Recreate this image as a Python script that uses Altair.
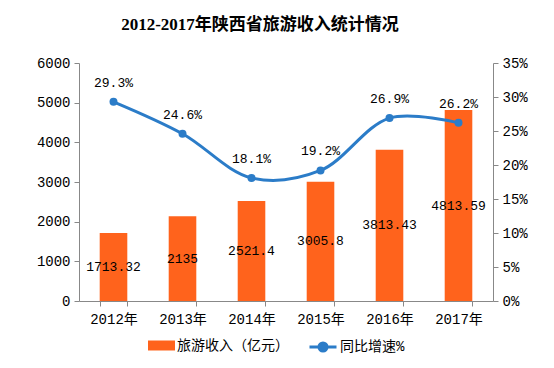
import altair as alt
import pandas as pd

years = ["2012年", "2013年", "2014年", "2015年", "2016年", "2017年"]
revenue = [1713.32, 2135, 2521.4, 3005.8, 3813.43, 4813.59]
revenue_labels = ["1713.32", "2135", "2521.4", "3005.8", "3813.43", "4813.59"]
growth = [29.3, 24.6, 18.1, 19.2, 26.9, 26.2]
growth_labels = ["29.3%", "24.6%", "18.1%", "19.2%", "26.9%", "26.2%"]
left_ticks = [0, 1000, 2000, 3000, 4000, 5000, 6000]
right_ticks = [0, 5, 10, 15, 20, 25, 30, 35]

bar_name = "旅游收入（亿元）"
line_name = "同比增速%"
ORANGE = "#FF631C"
BLUE = "#2B7CC8"
NUM_FONT = "Liberation Mono"
CJK_FONT = "Liberation Mono, Noto Sans CJK SC"

df = pd.DataFrame({
    "year": years,
    "revenue": revenue,
    "rlabel": revenue_labels,
    "growth": growth,
    "glabel": growth_labels,
    "bar_series": bar_name,
    "line_series": line_name,
})

x = alt.X("year:N", sort=years, title=None,
          scale=alt.Scale(paddingInner=0.6, paddingOuter=0.3),
          axis=alt.Axis(labelAngle=0, tickBand="extent", tickSize=5,
                        domainColor="#888888", tickColor="#888888",
                        labelFont=CJK_FONT, labelFontSize=14, labelColor="#000000",
                        labelPadding=6))

left_axis = alt.Axis(values=left_ticks, grid=False, format="d",
                     tickSize=5, domainColor="#888888", tickColor="#888888",
                     labelFont=NUM_FONT, labelFontSize=14, labelColor="#000000",
                     labelPadding=4, title=None)
right_axis = alt.Axis(orient="right", values=right_ticks,
                      labelExpr="datum.value + '%'", grid=False,
                      tickSize=5, domainColor="#888888", tickColor="#888888",
                      labelFont=NUM_FONT, labelFontSize=14, labelColor="#000000",
                      labelPadding=4, title=None)
left_scale = alt.Scale(domain=[0, 6000])
right_scale = alt.Scale(domain=[0, 35])

base = alt.Chart(df).encode(x=x)

bars = base.mark_bar(color=ORANGE).encode(
    y=alt.Y("revenue:Q", title=None, scale=left_scale, axis=left_axis),
    fill=alt.Fill("bar_series:N",
                  scale=alt.Scale(domain=[bar_name], range=[ORANGE]),
                  legend=alt.Legend(title=None, orient="none", legendX=69, legendY=269,
                                    symbolType="M-1,-0.37H1V0.37H-1Z", symbolSize=729,
                                    symbolStrokeWidth=0, padding=0,
                                    labelFont=CJK_FONT, labelFontSize=14,
                                    labelColor="#000000", labelOffset=2)),
)

bar_text = base.transform_calculate(mid="datum.revenue / 2").mark_text(
    font=NUM_FONT, fontSize=13, color="#000000", baseline="middle"
).encode(
    y=alt.Y("mid:Q", title=None, scale=left_scale, axis=left_axis),
    text="rlabel:N",
)

left = alt.layer(bars, bar_text)

line = base.mark_line(interpolate="catmull-rom", strokeWidth=3, color=BLUE).encode(
    y=alt.Y("growth:Q", title=None, scale=right_scale, axis=right_axis),
    stroke=alt.Stroke("line_series:N",
                      scale=alt.Scale(domain=[line_name], range=[BLUE]),
                      legend=alt.Legend(title=None, orient="none", legendX=229, legendY=269,
                                        symbolType="M-1,0H1M0.3,0A0.3,0.3,0,1,1,-0.3,0A0.3,0.3,0,1,1,0.3,0Z",
                                        symbolSize=729, symbolStrokeWidth=3,
                                        symbolFillColor=BLUE, padding=0,
                                        labelFont=CJK_FONT, labelFontSize=14,
                                        labelColor="#000000", labelOffset=2)),
)

points = base.mark_circle(size=64, color=BLUE, opacity=1).encode(
    y=alt.Y("growth:Q", title=None, scale=right_scale, axis=right_axis),
)

line_text = base.mark_text(font=NUM_FONT, fontSize=13, color="#000000",
                           baseline="middle", dy=-19).encode(
    y=alt.Y("growth:Q", title=None, scale=right_scale, axis=right_axis),
    text="glabel:N",
)

right = alt.layer(line, points, line_text)

chart = alt.layer(left, right).resolve_scale(y="independent").properties(
    width=414, height=238,
    autosize=alt.AutoSizeParams(type="none"),
    padding={"left": 71, "top": 55, "right": 50, "bottom": 66},
    title=alt.TitleParams("2012-2017年陕西省旅游收入统计情况",
                          font="Liberation Serif, Noto Sans CJK SC", fontSize=17,
                          fontWeight="bold", color="#000000", anchor="middle",
                          dx=-26, offset=22),
).configure_view(stroke=None).configure_axis(domainWidth=1)

chart.save("out.html", embed_options={"renderer": "svg", "actions": False})
